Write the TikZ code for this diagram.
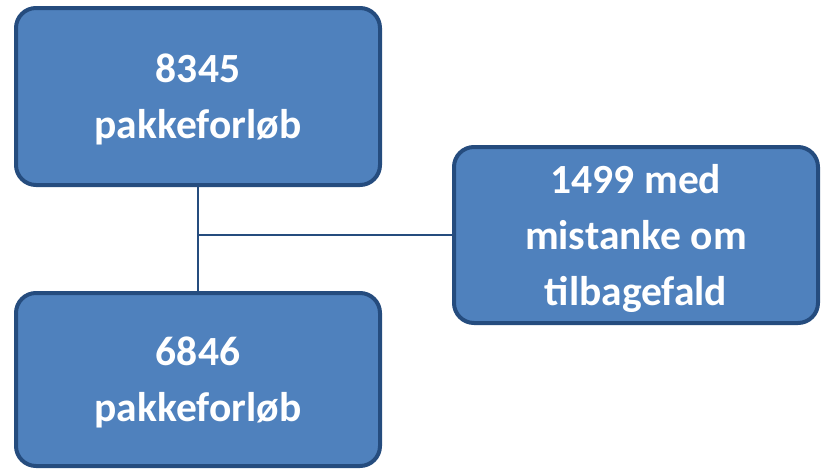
\documentclass[tikz,border=0pt]{standalone}
\usepackage{fontspec}
\setmainfont{Carlito}
\definecolor{boxfill}{HTML}{4F81BD}
\definecolor{boxline}{HTML}{254C7E}
\newcommand{\boxtext}[1]{\raisebox{-3pt}[\height][\depth]{\begin{tabular}{@{}c@{}}#1\end{tabular}}}
\begin{document}
\begin{tikzpicture}[x=1pt,y=-1pt,
  box/.style={draw=boxline, line width=4pt, fill=boxfill, rounded corners=20pt,
    minimum width=364pt, text=white,
    font=\fontsize{41.5}{56}\selectfont\bfseries},
  conn/.style={draw=boxline, line width=2pt}]
\useasboundingbox (0,0) rectangle (825,471);
\node[box, minimum height=177pt] (top) at (198,96.5) {\boxtext{8345\\pakkeforløb}};
\node[box, minimum height=173pt] (bot) at (198,379.5) {\boxtext{6846\\pakkeforløb}};
\node[box, minimum height=176pt] (right) at (636,235) {\boxtext{1499 med\\mistanke om\\tilbagefald}};
\draw[conn] (top.south) -- (bot.north);
\draw[conn] (top.south |- right.west) -- (right.west);
\end{tikzpicture}
\end{document}
